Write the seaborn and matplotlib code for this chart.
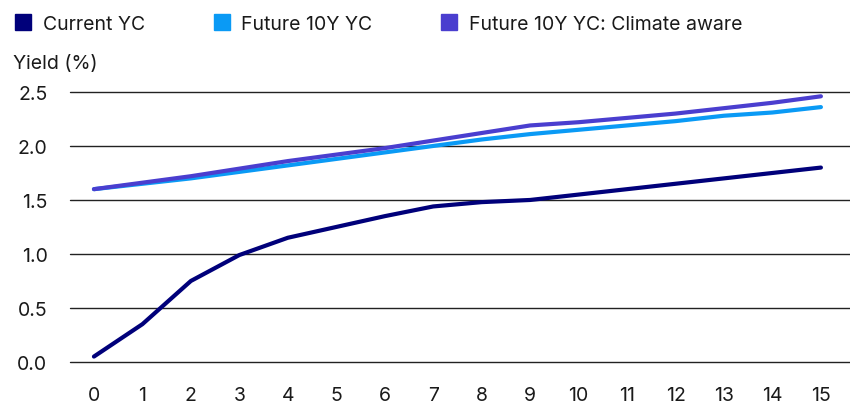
import matplotlib
matplotlib.use("Agg")
import matplotlib.pyplot as plt
import seaborn as sns
import pandas as pd
from matplotlib.lines import Line2D

years = list(range(16))
current_yc = [0.05, 0.35, 0.75, 0.99, 1.15, 1.25, 1.35, 1.44, 1.48, 1.50,
              1.55, 1.60, 1.65, 1.70, 1.75, 1.80]
future_yc = [1.60, 1.65, 1.70, 1.76, 1.82, 1.88, 1.94, 2.00, 2.06, 2.11,
             2.15, 2.19, 2.23, 2.28, 2.31, 2.36]
climate_yc = [1.60, 1.66, 1.72, 1.79, 1.86, 1.92, 1.98, 2.05, 2.12, 2.19,
              2.22, 2.26, 2.30, 2.35, 2.40, 2.46]
series_names = ["Current YC", "Future 10Y YC", "Future 10Y YC: Climate aware"]
colors = ["#00007a", "#0a9af5", "#4a3ecf"]

sns.set_style("white")
plt.rcParams['font.family'] = ['Inter', 'DejaVu Sans']

df = pd.DataFrame({
    "year": years * 3,
    "yield": current_yc + future_yc + climate_yc,
    "series": [series_names[0]] * 16 + [series_names[1]] * 16 + [series_names[2]] * 16,
})

fig = plt.figure(figsize=(8.5, 4.06), dpi=100)
ax = fig.add_axes([0.082, 0.106, 0.918, 0.665])
sns.lineplot(data=df, x="year", y="yield", hue="series", palette=colors,
             hue_order=series_names, linewidth=3, ax=ax, legend=False)
for ln in ax.lines:
    ln.set_clip_on(False)
    ln.set_solid_capstyle("round")

ax.set_xlim(-0.5, 15.6)
ax.set_ylim(0, 2.5)
ax.set_xticks(years)
ax.set_yticks([0, 0.5, 1.0, 1.5, 2.0, 2.5])
ax.set_yticklabels(["0.0", "0.5", "1.0", "1.5", "2.0", "2.5"])
ax.yaxis.grid(True, color="#222222", linewidth=1)
for gl in ax.get_ygridlines():
    gl.set_clip_on(False)
ax.set_axisbelow(True)
for s in ax.spines.values():
    s.set_visible(False)
ax.tick_params(axis="both", length=0, labelsize=14, colors="#1a1a1a")
ax.tick_params(axis="x", pad=17)
ax.tick_params(axis="y", pad=16)
ax.set_xlabel("")
ax.set_ylabel("")

fig.text(0.015, 0.843, "Yield (%)", fontsize=14, color="#1a1a1a", va="center")

handles = [Line2D([], [], marker="s", linestyle="", markersize=11.5, color=c) for c in colors]
fig.legend(handles, series_names, loc="upper left", bbox_to_anchor=(0.0, 1.0),
           ncol=3, frameon=False, fontsize=14, handletextpad=0.6,
           columnspacing=3.55, handlelength=0.8, borderpad=0.3, labelcolor="#1a1a1a")

fig.savefig("out.png", dpi=100)
